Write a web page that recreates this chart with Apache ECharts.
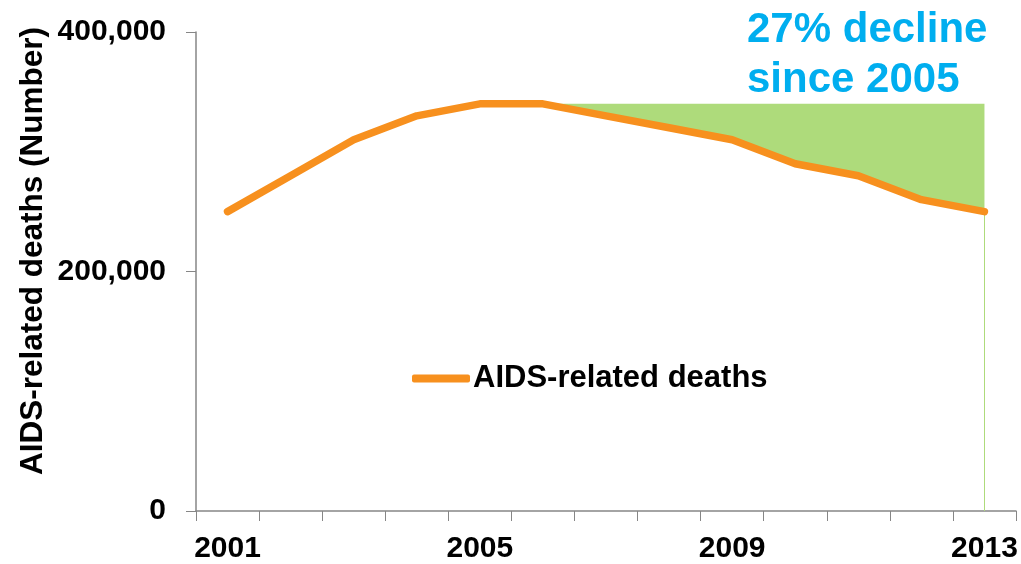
<!DOCTYPE html>
<html>
<head>
<meta charset="utf-8">
<script src="https://cdn.jsdelivr.net/npm/echarts@6/dist/echarts.min.js"></script>
<style>
  html, body { margin: 0; padding: 0; background: #fff; }
  #chart { width: 1021px; height: 564px; }
</style>
</head>
<body>
<div id="chart"></div>
<script>
var years = ['2001','2002','2003','2004','2005','2006','2007','2008','2009','2010','2011','2012','2013'];
var deaths = [250000, 280000, 310000, 330000, 340000, 340000, 330000, 320000, 310000, 290000, 280000, 260000, 250000];
var peakLevel = 340000;      // 2005 level, top of the shaded gap
var gapFrom = 5;             // shading starts at 2006
var yTicks = [0, 200000, 400000];

// base of the shaded region = the line itself, gap = distance up to the peak
var gapBase = deaths.map(function (v, i) { return i >= gapFrom ? v : null; });
var gapSize = deaths.map(function (v, i) { return i >= gapFrom ? peakLevel - v : null; });

var myChart = echarts.init(document.getElementById('chart'));
var font = 'Liberation Sans, Arial, sans-serif';

myChart.setOption({
  animation: false,
  grid: { left: 196, right: 5, top: 32, bottom: 52 },
  legend: {
    data: [{ name: 'AIDS-related deaths', icon: 'roundRect' }],
    left: 407, top: 358,
    itemWidth: 58, itemHeight: 8,
    textStyle: { fontFamily: font, fontSize: 31, fontWeight: 'bold', color: '#000', padding: [0, 0, 0, -2] }
  },
  graphic: [
    {
      type: 'text', x: 747, y: 30,
      style: { text: '27% decline', font: 'bold 42px ' + font, fill: '#00AEEF', verticalAlign: 'middle' }
    },
    {
      type: 'text', x: 747, y: 80,
      style: { text: 'since 2005', font: 'bold 42px ' + font, fill: '#00AEEF', verticalAlign: 'middle' }
    },
    {
      type: 'text', x: 33, y: 251, rotation: Math.PI / 2,
      style: {
        text: 'AIDS-related deaths (Number)',
        font: 'bold 31.5px ' + font,
        fill: '#000', align: 'center', verticalAlign: 'middle'
      }
    }
  ],
  xAxis: {
    type: 'category',
    data: years,
    boundaryGap: true,
    axisLine: { lineStyle: { color: '#868686', width: 1.5 } },
    axisTick: { show: true, interval: 0, length: 10, lineStyle: { color: '#868686' } },
    axisLabel: {
      interval: 3, margin: 23,
      fontFamily: font, fontSize: 30, fontWeight: 'bold', color: '#000'
    },
    splitLine: { show: false }
  },
  yAxis: {
    type: 'value',
    min: yTicks[0], max: yTicks[yTicks.length - 1], interval: yTicks[1] - yTicks[0],
    axisLine: { show: true, lineStyle: { color: '#868686', width: 1.5 } },
    axisTick: { show: true, length: 10, lineStyle: { color: '#868686' } },
    axisLabel: {
      margin: 30,
      fontFamily: font, fontSize: 30, fontWeight: 'bold', color: '#000',
      formatter: function (v) { return v.toLocaleString('en-US'); }
    },
    splitLine: { show: false }
  },
  series: [
    {
      name: 'base', type: 'line', stack: 'gap', data: gapBase,
      symbol: 'none', lineStyle: { width: 0 }, silent: true, z: 1
    },
    {
      name: 'gap', type: 'line', stack: 'gap', data: gapSize,
      symbol: 'none', lineStyle: { width: 0 },
      areaStyle: { color: '#AEDB7B', opacity: 1 }, silent: true, z: 1,
      markLine: {
        symbol: 'none', silent: true, label: { show: false },
        lineStyle: { color: '#AEDB7B', width: 1, type: 'solid' },
        data: [[{ coord: [years[12], 0] }, { coord: [years[12], deaths[12]] }]]
      }
    },
    {
      name: 'AIDS-related deaths', type: 'line', data: deaths,
      symbol: 'none', z: 5,
      itemStyle: { color: '#F7901E' },
      lineStyle: { color: '#F7901E', width: 7.5, cap: 'round', join: 'round' }
    }
  ]
});
</script>
</body>
</html>
